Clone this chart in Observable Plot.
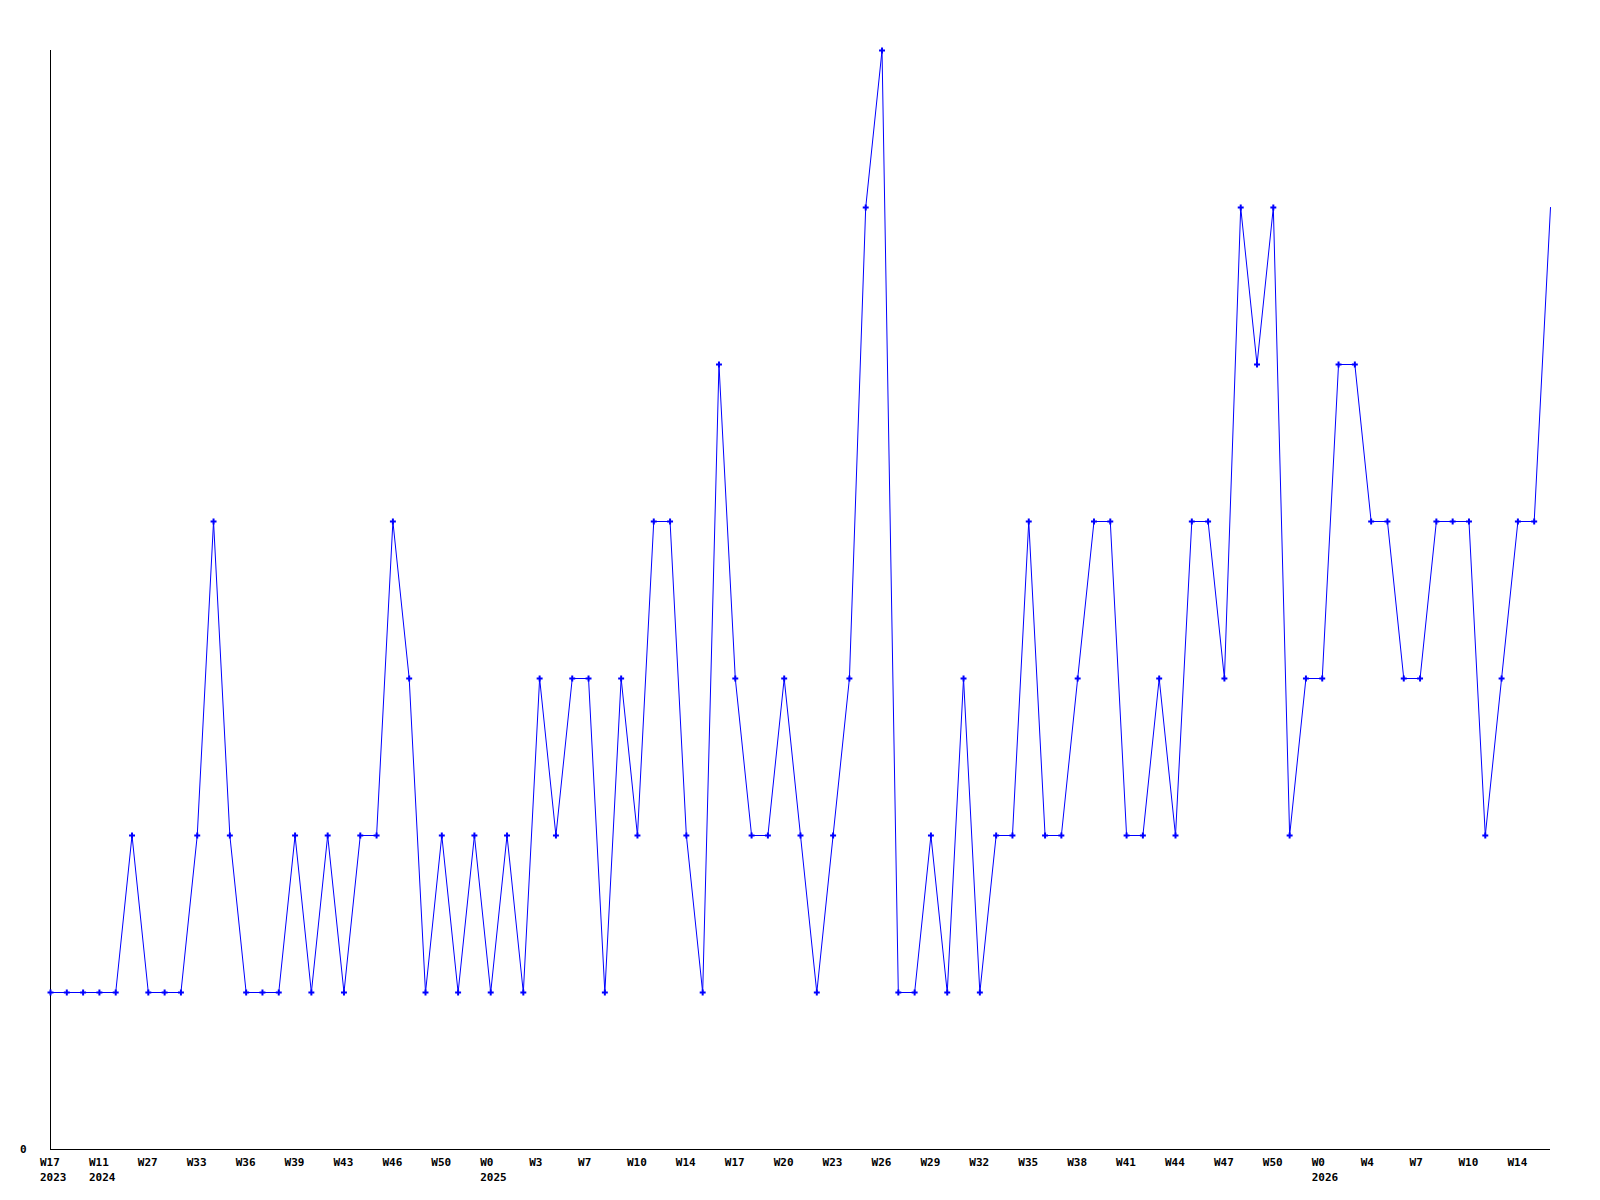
<!DOCTYPE html>
<html>
<head>
<meta charset="utf-8">
<script src="https://cdn.jsdelivr.net/npm/d3@7"></script>
<script src="https://cdn.jsdelivr.net/npm/@observablehq/plot@0.6"></script>
<style>
  html, body { margin: 0; padding: 0; background: #fff; }
  #chart svg { display: block; }
</style>
</head>
<body>
<div id="chart"></div>
<script>
// Weekly counts (one point per week, in order)
const values = [
  1, 1, 1, 1, 1, 2, 1, 1, 1, 2,
  4, 2, 1, 1, 1, 2, 1, 2, 1, 2,
  2, 4, 3, 1, 2, 1, 2, 1, 2, 1,
  3, 2, 3, 3, 1, 3, 2, 4, 4, 2,
  1, 5, 3, 2, 2, 3, 2, 1, 2, 3,
  6, 7, 1, 1, 2, 1, 3, 1, 2, 2,
  4, 2, 2, 3, 4, 4, 2, 2, 3, 2,
  4, 4, 3, 6, 5, 6, 2, 3, 3, 5,
  5, 4, 4, 3, 3, 4, 4, 4, 2, 3,
  4, 4, 6
];

// Tick labels, one every third week
const weekLabels = [
  "W17", "W11", "W27", "W33", "W36", "W39", "W43", "W46", "W50", "W0",
  "W3", "W7", "W10", "W14", "W17", "W20", "W23", "W26", "W29", "W32",
  "W35", "W38", "W41", "W44", "W47", "W50", "W0", "W4", "W7", "W10", "W14"
];
const yearLabels = [
  "2023", "2024", "", "", "", "", "", "", "", "2025",
  "", "", "", "", "", "", "", "", "", "",
  "", "", "", "", "", "", "2026", "", "", "", ""
];
const yTicks = [0];
const tickStep = 3;

const points = values.map((v, i) => ({i, v}));
const ticks = weekLabels.map((w, k) => ({
  i: k * tickStep,
  label: yearLabels[k] ? w + "\n" + yearLabels[k] : w
}));

const font = "'DejaVu Sans Mono', 'Liberation Mono', monospace";

const chart = Plot.plot({
  width: 1600,
  height: 1200,
  marginLeft: 50,
  marginRight: 50,
  marginTop: 50,
  marginBottom: 51,
  style: {fontFamily: font, fontSize: "11px", fontWeight: "bold", background: "#fff", color: "#000"},
  x: {domain: [0, values.length - 1], axis: null},
  y: {domain: [0, 7], axis: null},
  marks: [
    Plot.axisY({ticks: yTicks, tickFormat: d => String(d), label: null, tickSize: 0, tickPadding: 24, fontSize: 11, fontWeight: "bold"}),
    Plot.ruleX([0], {y1: 0, y2: 7, stroke: "#000", strokeWidth: 1}),
    Plot.ruleY([0], {stroke: "#000", strokeWidth: 1}),
    Plot.line(points, {x: "i", y: "v", stroke: "#0000ff", strokeWidth: 1, curve: "linear"}),
    Plot.dot(points.filter(d => d.i < values.length - 1), {
      x: "i", y: "v", symbol: "cross", r: 2.5, fill: "#0000ff", stroke: null
    }),
    Plot.text(ticks, {
      x: "i", y: () => 0, text: "label",
      textAnchor: "start", lineAnchor: "top", dx: -10.5, dy: 6,
      lineHeight: 1.36, fill: "#000", fontWeight: "bold", fontSize: 11
    })
  ]
});
document.getElementById("chart").appendChild(chart);
</script>
</body>
</html>
